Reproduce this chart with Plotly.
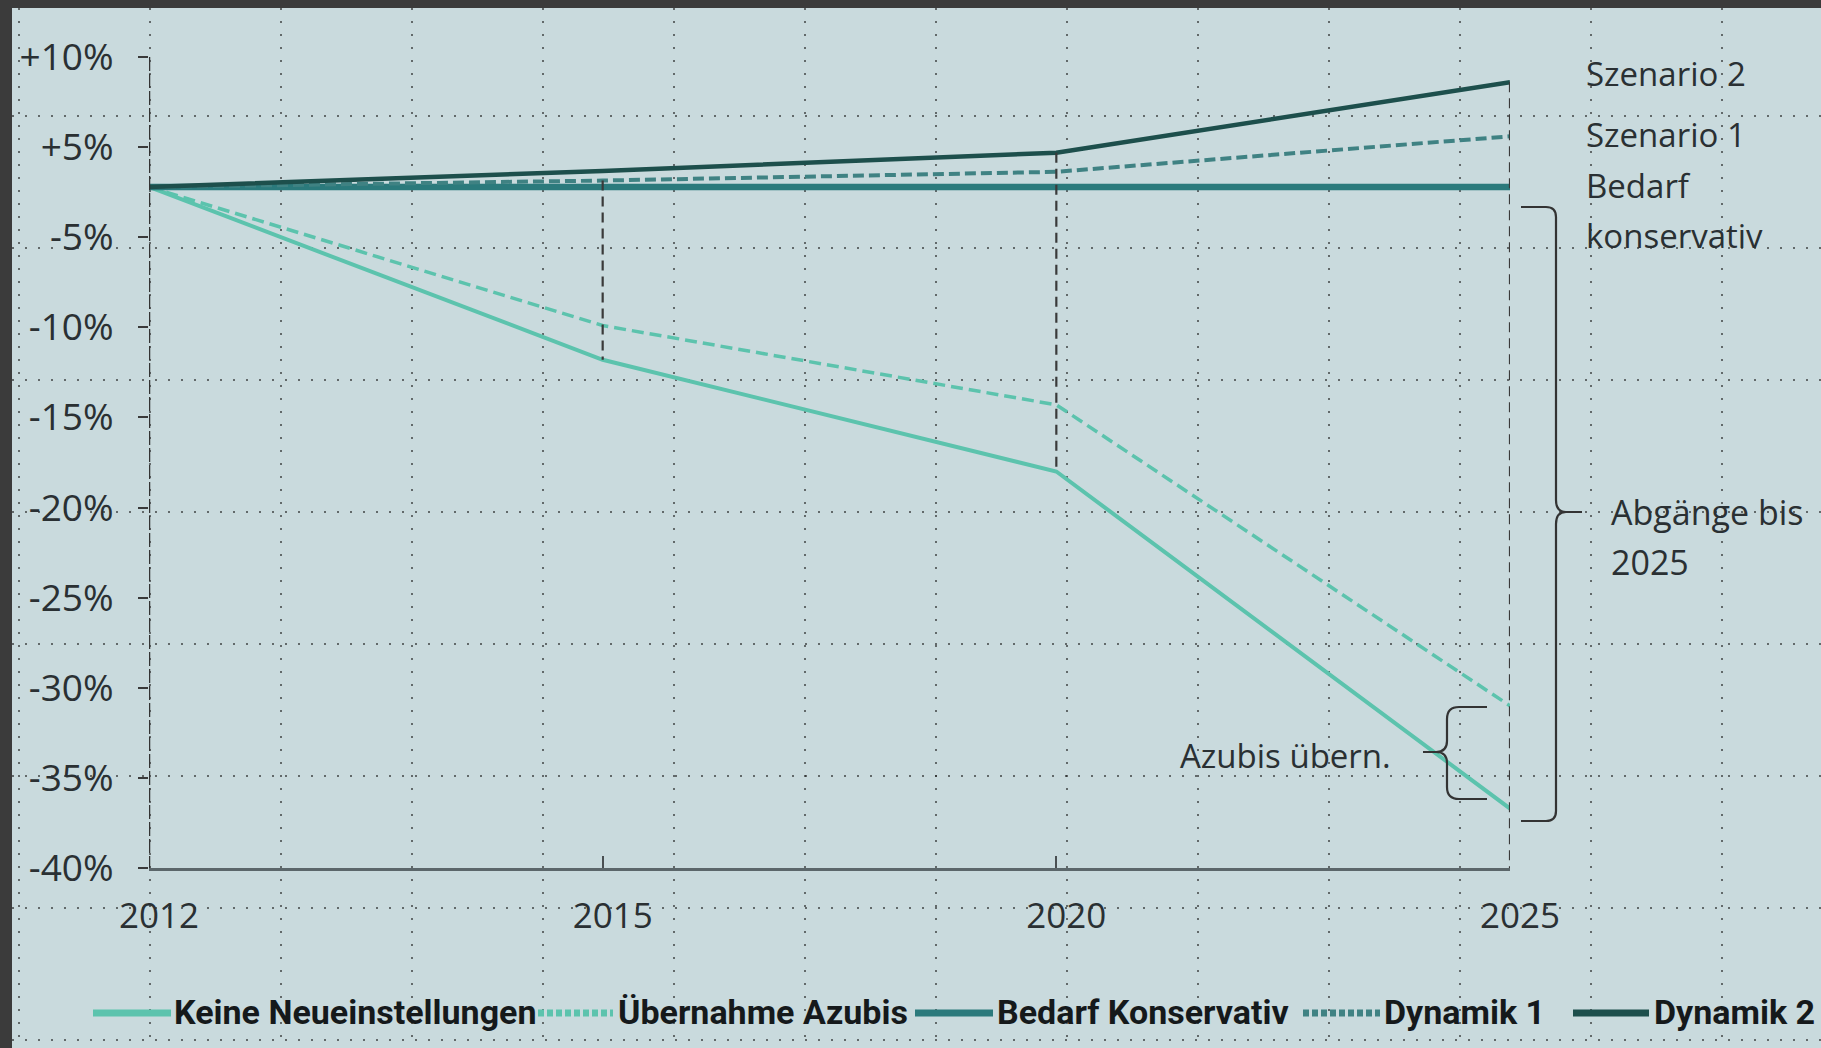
import numpy as np
import plotly.graph_objects as go

# ---------------- data ----------------
YEARS = ["2012", "2015", "2020", "2025"]
KEINE_NEUEINSTELLUNGEN = [0.0, -11.8, -18.0, -36.7]
UEBERNAHME_AZUBIS = [0.0, -9.9, -14.3, -31.0]
BEDARF_KONSERVATIV = [0.0, 0.0, 0.0, 0.0]
DYNAMIK_1 = [0.0, 0.8, 1.9, 5.6]
DYNAMIK_2 = [0.0, 2.0, 4.3, 8.6]

Y_TICKS = [10, 5, -5, -10, -15, -20, -25, -30, -35, -40]
Y_TICK_TEXT = [f"{v:+d}%" for v in Y_TICKS]

SERIES_NAMES = ["Keine Neueinstellungen", "Übernahme Azubis", "Bedarf Konservativ",
                "Dynamik 1", "Dynamik 2"]

# ---------------- axis (compressed segment between +5% and -5%) ----------------
KNOT_VALS = [-40, -5, 0, 5, 10]
KNOT_POS = [-40, -5, -2.21, 0, 5]


def ypos(v):
    return np.interp(np.asarray(v, dtype=float), KNOT_VALS, KNOT_POS)


# ---------------- layout geometry (pixels) ----------------
W, H = 1821, 1048
L, R, T, B = 149, 1510, 57, 868


def px(x):
    return (x - L) / (R - L)


def py(y):
    return (B - y) / (B - T)


LIGHT = "#5cc3ad"
BEDARF_C = "#2b7a7c"
DYN1_C = "#3f8283"
DYN2_C = "#1d4f4c"
TXT = "#2a3033"
FONT = "Open Sans"

fig = go.Figure()

styles = [
    (KEINE_NEUEINSTELLUNGEN, LIGHT, 4, "solid"),
    (UEBERNAHME_AZUBIS, LIGHT, 3.5, "12px,6px"),
    (BEDARF_KONSERVATIV, BEDARF_C, 6.5, "solid"),
    (DYNAMIK_1, DYN1_C, 4, "11px,5px"),
    (DYNAMIK_2, DYN2_C, 4.5, "solid"),
]
for name, (vals, col, w, dash) in zip(SERIES_NAMES, styles):
    fig.add_trace(go.Scatter(
        x=YEARS, y=ypos(vals), mode="lines", name=name,
        line=dict(color=col, width=w, dash=dash),
        showlegend=False, hoverinfo="skip"))

shapes = []

# background: dark frame + light board
shapes.append(dict(type="rect", xref="paper", yref="paper", layer="below",
                   x0=px(12), x1=px(W + 5), y0=py(8), y1=py(H + 5),
                   fillcolor="#c9dadd", line=dict(width=0)))
# dotted board grid
for k in range(14):
    xx = 19 + 131 * k
    shapes.append(dict(type="line", xref="paper", yref="paper", layer="below",
                       x0=px(xx), x1=px(xx), y0=py(8), y1=py(H),
                       line=dict(color="rgba(30,30,30,0.6)", width=2, dash="2px,11px")))
for k in range(8):
    yy = 116 + 132 * k
    shapes.append(dict(type="line", xref="paper", yref="paper", layer="below",
                       x0=px(12), x1=px(W), y0=py(yy), y1=py(yy),
                       line=dict(color="rgba(30,30,30,0.6)", width=2, dash="2px,11px")))

# dashed y axis at 2012
shapes.append(dict(type="line", xref="x", yref="y", x0=0, x1=0,
                   y0=float(ypos(Y_TICKS[0])), y1=float(ypos(Y_TICKS[-1])),
                   line=dict(color="#333333", width=2.5, dash="14px,3px")))

# dashed verticals
v_tops = {1: DYNAMIK_1[1], 2: DYNAMIK_2[2], 3: DYNAMIK_2[3]}
v_bots = {1: KEINE_NEUEINSTELLUNGEN[1], 2: KEINE_NEUEINSTELLUNGEN[2], 3: Y_TICKS[-1]}
for i in (1, 2, 3):
    shapes.append(dict(type="line", xref="x", yref="y", x0=i, x1=i,
                       y0=float(ypos(v_tops[i])), y1=float(ypos(v_bots[i])),
                       line=dict(color="#3a3a3a", width=2.2, dash="10px,6px")))


def path(points_cmds):
    out = []
    for cmd, pts in points_cmds:
        coords = " ".join(f"{px(x):.5f},{py(y):.5f}" for x, y in pts)
        out.append(f"{cmd} {coords}")
    return " ".join(out)


# big bracket "Abgänge bis 2025"
big = path([
    ("M", [(1521, 207)]), ("L", [(1546, 207)]), ("Q", [(1556, 207), (1556, 217)]),
    ("L", [(1556, 500)]), ("Q", [(1556, 512), (1566, 512)]), ("L", [(1582, 512)]),
    ("M", [(1566, 512)]), ("Q", [(1556, 512), (1556, 524)]),
    ("L", [(1556, 811)]), ("Q", [(1556, 821), (1546, 821)]), ("L", [(1521, 821)]),
])
shapes.append(dict(type="path", xref="paper", yref="paper", path=big,
                   line=dict(color="#333333", width=2.2)))
# curly brace "Azubis übern."
small = path([
    ("M", [(1487, 707)]), ("L", [(1459, 707)]), ("Q", [(1447, 707), (1447, 719)]),
    ("L", [(1447, 741)]), ("Q", [(1447, 752), (1436, 752)]), ("L", [(1423, 752)]),
    ("M", [(1436, 752)]), ("Q", [(1447, 752), (1447, 763)]),
    ("L", [(1447, 787)]), ("Q", [(1447, 799), (1459, 799)]), ("L", [(1487, 799)]),
])
shapes.append(dict(type="path", xref="paper", yref="paper", path=small,
                   line=dict(color="#333333", width=2.2)))

annotations = []


def note(text, x, y, anchor="left", size=33, bold=False, family=FONT):
    annotations.append(dict(
        text=f"<b>{text}</b>" if bold else text, xref="paper", yref="paper",
        x=px(x), y=py(y), xanchor=anchor, yanchor="middle", showarrow=False,
        font=dict(family=family, size=size, color=TXT if not bold else "#15191b")))


note("Szenario 2", 1584, 73)
note("Szenario 1", 1584, 134)
note("Bedarf", 1584, 186)
note("konservativ", 1584, 235)
note("Abgänge bis", 1609, 512, size=34)
note("2025", 1609, 562, size=34)
note("Azubis übern.", 1393, 755, anchor="right")

# manual legend
LEG_Y = 1013
legend_items = [
    (93, 171, LIGHT, "solid", 172),
    (538, 613, LIGHT, "6px,3px", 616),
    (915, 993, BEDARF_C, "solid", 995),
    (1303, 1380, DYN1_C, "6px,3px", 1382),
    (1573, 1649, DYN2_C, "solid", 1652),
]
LEG_FONT = "Roboto"
for name, (x0, x1, col, dash, tx) in zip(SERIES_NAMES, legend_items):
    shapes.append(dict(type="line", xref="paper", yref="paper",
                       x0=px(x0), x1=px(x1), y0=py(LEG_Y), y1=py(LEG_Y),
                       line=dict(color=col, width=7, dash=dash)))
    note(name, tx, LEG_Y - 1, size=34, bold=True, family=LEG_FONT)

fig.update_layout(
    width=W, height=H, autosize=False,
    margin=dict(l=L, r=W - R, t=T, b=H - B, pad=0),
    paper_bgcolor="#3b3b3b", plot_bgcolor="rgba(0,0,0,0)",
    shapes=shapes, annotations=annotations, showlegend=False,
    xaxis=dict(type="category", range=[0, 3], showgrid=False, zeroline=False,
               showline=True, linecolor="#5b666a", linewidth=3,
               ticks="inside", ticklen=12, tickwidth=2, tickcolor="#4a4f52",
               tickfont=dict(family=FONT, size=35, color=TXT),
               ticklabelstandoff=15, ticklabelshift=10),
    yaxis=dict(range=[float(ypos(Y_TICKS[-1])), float(ypos(Y_TICKS[0]))], showgrid=False,
               zeroline=False, showline=False,
               tickmode="array", tickvals=[float(v) for v in ypos(Y_TICKS)],
               ticktext=Y_TICK_TEXT,
               ticks="outside", ticklen=10, tickwidth=2, tickcolor="#3a3a3a",
               tickfont=dict(family=FONT, size=37, color=TXT),
               ticklabelstandoff=17),
)

fig.write_html("out.html")
